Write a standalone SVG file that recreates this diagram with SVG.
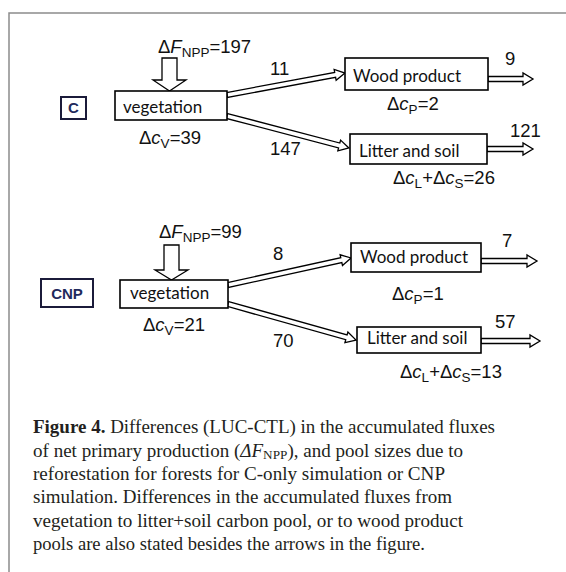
<svg xmlns="http://www.w3.org/2000/svg" width="566" height="572" viewBox="0 0 566 572">
<style>
.box{fill:#fff;stroke:#000;stroke-width:1.6}
.lbl{font-family:Lato,"Open Sans",sans-serif;font-size:17px;fill:#111}
.num{font-family:"Liberation Sans",Arial,sans-serif;font-size:18.5px;fill:#111}
.arr{fill:#fff;stroke:#000;stroke-width:1.3;stroke-linejoin:miter}
.tag{fill:#fff;stroke:#1b1b3a;stroke-width:2}
.tagt{font-family:"Liberation Sans",Arial,sans-serif;font-weight:bold;font-size:15px;fill:#1f2a5c}
.cap{font-family:"Liberation Serif","Times New Roman",serif;font-size:18px;fill:#231f20}
</style>
<path d="M9,572 V13 H566" fill="none" stroke="#8c8c8c" stroke-width="1.5"/>
<g id="connectors">
  <polygon class="arr" points="162,58 177,58 177,80 186,80 169.5,91 153,80 162,80"/>
  <polygon class="arr" points="164,245 179,245 179,270 188,270 171.5,280 155,270 164,270"/>
  <polygon class="arr" transform="translate(227,95) rotate(-10.56)" points="0,-2.5 110,-2.5 110,-5.5 120,0 110,5.5 110,2.5 0,2.5"/>
  <polygon class="arr" transform="translate(227,116) rotate(14.7)" points="0,-2.5 116,-2.5 116,-5.5 126,0 116,5.5 116,2.5 0,2.5"/>
  <polygon class="arr" transform="translate(228,285) rotate(-12.38)" points="0,-2.5 116,-2.5 116,-5.5 126,0 116,5.5 116,2.5 0,2.5"/>
  <polygon class="arr" transform="translate(228,304) rotate(15.71)" points="0,-2.5 123,-2.5 123,-5.5 133,0 123,5.5 123,2.5 0,2.5"/>
  <polygon class="arr" transform="translate(488,79)" points="0,-2.5 35,-2.5 35,-6 45,0 35,6 35,2.5 0,2.5"/>
  <polygon class="arr" transform="translate(487,149)" points="0,-2.5 36,-2.5 36,-6 46,0 36,6 36,2.5 0,2.5"/>
  <polygon class="arr" transform="translate(481,261)" points="0,-2.5 46,-2.5 46,-6 56,0 46,6 46,2.5 0,2.5"/>
  <polygon class="arr" transform="translate(481,341)" points="0,-2.5 49,-2.5 49,-6 59,0 49,6 49,2.5 0,2.5"/>
  <text class="num" x="270" y="75">11</text>
  <text class="num" x="270" y="155">147</text>
  <text class="num" x="505" y="65">9</text>
  <text class="num" x="510" y="137">121</text>
  <text class="num" x="273" y="260">8</text>
  <text class="num" x="273" y="347">70</text>
  <text class="num" x="502" y="247">7</text>
  <text class="num" x="495" y="328">57</text>
  <text class="num" x="158" y="53">Δ<tspan font-style="italic">F</tspan><tspan font-size="13.5" dy="4">NPP</tspan><tspan dy="-4">=197</tspan></text>
  <text class="num" x="159" y="238">Δ<tspan font-style="italic">F</tspan><tspan font-size="13.5" dy="4">NPP</tspan><tspan dy="-4">=99</tspan></text>
</g>
<g id="tag-c">
  <rect class="tag" x="61" y="97" width="25" height="22"/>
  <text class="tagt" x="73.5" y="113" text-anchor="middle">C</text>
</g>
<g id="tag-cnp">
  <rect class="tag" x="41" y="279" width="52" height="28"/>
  <text class="tagt" x="67" y="298.5" text-anchor="middle">CNP</text>
</g>
<g id="veg-c">
  <rect class="box" x="115" y="91" width="112" height="29"/>
  <text class="lbl" x="123" y="113" font-size="18">vegetation</text>
  <text class="num" x="139" y="144">Δ<tspan font-style="italic">c</tspan><tspan font-size="13.5" dy="4">V</tspan><tspan dy="-4">=39</tspan></text>
</g>
<g id="wood-c">
  <rect class="box" x="345" y="58" width="143" height="32"/>
  <text class="lbl" x="353" y="82">Wood product</text>
  <text class="num" x="387" y="110">Δ<tspan font-style="italic">c</tspan><tspan font-size="13.5" dy="4">P</tspan><tspan dy="-4">=2</tspan></text>
</g>
<g id="litter-c">
  <rect class="box" x="350" y="134" width="137" height="30"/>
  <text class="lbl" x="359" y="157">Litter and soil</text>
  <text class="num" x="393" y="184">Δ<tspan font-style="italic">c</tspan><tspan font-size="13.5" dy="4">L</tspan><tspan dy="-4">+Δ</tspan><tspan font-style="italic">c</tspan><tspan font-size="13.5" dy="4">S</tspan><tspan dy="-4">=26</tspan></text>
</g>
<g id="veg-cnp">
  <rect class="box" x="120" y="280" width="108" height="28"/>
  <text class="lbl" x="130" y="299" font-size="15.5">vegetation</text>
  <text class="num" x="143" y="331">Δ<tspan font-style="italic">c</tspan><tspan font-size="13.5" dy="4">V</tspan><tspan dy="-4">=21</tspan></text>
</g>
<g id="wood-cnp">
  <rect class="box" x="351" y="243" width="130" height="29"/>
  <text class="lbl" x="360" y="263" font-size="15.5">Wood product</text>
  <text class="num" x="392" y="300">Δ<tspan font-style="italic">c</tspan><tspan font-size="13.5" dy="4">P</tspan><tspan dy="-4">=1</tspan></text>
</g>
<g id="litter-cnp">
  <rect class="box" x="357" y="327" width="124" height="26"/>
  <text class="lbl" x="367" y="344" font-size="15.5">Litter and soil</text>
  <text class="num" x="400" y="378">Δ<tspan font-style="italic">c</tspan><tspan font-size="13.5" dy="4">L</tspan><tspan dy="-4">+Δ</tspan><tspan font-style="italic">c</tspan><tspan font-size="13.5" dy="4">S</tspan><tspan dy="-4">=13</tspan></text>
</g>
<g id="caption" class="cap">
  <text x="33" y="433" textLength="462" lengthAdjust="spacingAndGlyphs"><tspan font-weight="bold">Figure 4.</tspan> Differences (LUC-CTL) in the accumulated fluxes</text>
  <text x="33" y="457" textLength="430" lengthAdjust="spacingAndGlyphs">of net primary production (<tspan font-style="italic">ΔF</tspan><tspan font-size="12.5" dy="2">NPP</tspan><tspan dy="-2">), and pool sizes due to</tspan></text>
  <text x="33" y="480" textLength="412" lengthAdjust="spacingAndGlyphs">reforestation for forests for C-only simulation or CNP</text>
  <text x="33" y="503" textLength="419" lengthAdjust="spacingAndGlyphs">simulation. Differences in the accumulated fluxes from</text>
  <text x="33" y="527" textLength="430" lengthAdjust="spacingAndGlyphs">vegetation to litter+soil carbon pool, or to wood product</text>
  <text x="33" y="550" textLength="392" lengthAdjust="spacingAndGlyphs">pools are also stated besides the arrows in the figure.</text>
</g>
</svg>
